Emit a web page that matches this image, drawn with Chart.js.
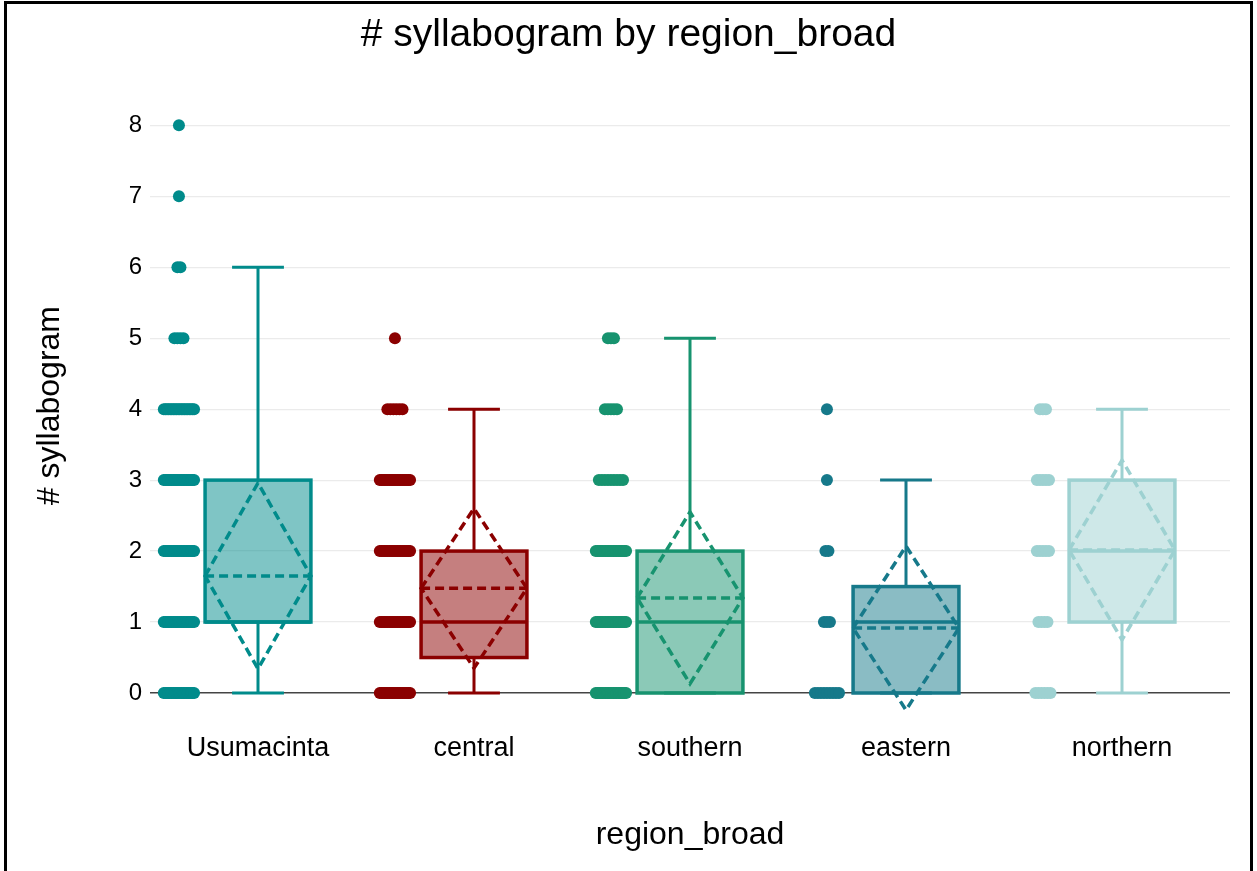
<!DOCTYPE html>
<html lang="en">
<head>
  <meta charset="UTF-8">
  <title># syllabogram by region_broad</title>
  <script src="https://cdn.jsdelivr.net/npm/chart.js"></script>
  <style>
    html, body { margin: 0; padding: 0; background: #fff; overflow: hidden; }
    #wrap { position: relative; width: 1257px; height: 871px; }
    #frame { position: absolute; left: 4px; top: 1px; width: 1243px; height: 900px;
             border: 3px solid #000; pointer-events: none; }
    canvas { position: absolute; left: 0; top: 0; }
  </style>
</head>
<body>
  <div id="wrap">
    <canvas id="box_chart" width="1257" height="871"></canvas>
    <div id="frame"></div>
  </div>

  <script>
    // values
    const regions = ['Usumacinta', 'central', 'southern', 'eastern', 'northern'];
    const q1 = [1, 0.5, 0, 0, 1];
    const median = [1, 1, 1, 1, 2];
    const q3 = [3, 2, 2, 1.5, 3];
    const whiskerLow = [0, 0, 0, 0, 0];
    const whiskerHigh = [6, 4, 5, 3, 4];
    const means = [1.65, 1.475, 1.34, 0.915, 2.015];
    const sds = [1.31, 1.125, 1.21, 1.155, 1.265];

    // how many points sit at each value 0,1,2,... (estimated from the dot clusters)
    const usumacintaCounts = [20, 20, 20, 20, 20, 4, 2, 1, 1];
    const centralCounts = [20, 20, 20, 20, 6, 1];
    const southernCounts = [20, 20, 20, 9, 5, 3];
    const easternCounts = [9, 3, 2, 1, 1];
    const northernCounts = [6, 4, 5, 5, 3];

    const yTicks = [0, 1, 2, 3, 4, 5, 6, 7, 8];

    const colors = ['#008b8b', '#8b0000', '#17936f', '#16798a', '#9dd1d1'];
    const fontFamily = '"Liberation Sans", Arial, Helvetica, sans-serif';

    const allCounts = [usumacintaCounts, centralCounts, southernCounts, easternCounts, northernCounts];
    const pointOffset = -0.366;  // dots sit left of each box
    const jitterWidth = 0.14;
    const boxHalf = 0.245;
    const capHalf = 0.12;

    // spread the dots of one level across the jitter band
    function buildPoints(counts, i) {
      let pts = [];
      counts.forEach((c, v) => {
        let spread = jitterWidth * Math.min(1, (c - 1) / 10);
        for (let k = 0; k < c; k++) {
          let off = c > 1 ? -spread / 2 + spread * k / (c - 1) : 0;
          pts.push({ x: i + pointOffset + off, y: v });
        }
      });
      return pts;
    }

    const boxPlugin = {
      id: 'boxes',
      afterDatasetsDraw(chart) {
        const ctx = chart.ctx;
        const x = chart.scales.x;
        const y = chart.scales.y;
        regions.forEach((name, i) => {
          const cx = x.getPixelForValue(i);
          const hw = x.getPixelForValue(i + boxHalf) - cx;
          const cw = x.getPixelForValue(i + capHalf) - cx;
          const yq1 = y.getPixelForValue(q1[i]);
          const yq3 = y.getPixelForValue(q3[i]);
          const ymed = y.getPixelForValue(median[i]);
          const ylo = y.getPixelForValue(whiskerLow[i]);
          const yhi = y.getPixelForValue(whiskerHigh[i]);
          const ymean = y.getPixelForValue(means[i]);
          const ysdTop = y.getPixelForValue(means[i] + sds[i]);
          const ysdBot = y.getPixelForValue(means[i] - sds[i]);

          ctx.save();
          ctx.strokeStyle = colors[i];
          ctx.lineCap = 'butt';

          // whiskers + caps
          ctx.lineWidth = 3;
          ctx.beginPath();
          ctx.moveTo(cx, yq3); ctx.lineTo(cx, yhi);
          ctx.moveTo(cx, yq1); ctx.lineTo(cx, ylo);
          ctx.moveTo(cx - cw, yhi); ctx.lineTo(cx + cw, yhi);
          ctx.moveTo(cx - cw, ylo); ctx.lineTo(cx + cw, ylo);
          ctx.stroke();

          // box
          ctx.fillStyle = colors[i] + '80';
          ctx.fillRect(cx - hw, yq3, 2 * hw, yq1 - yq3);
          ctx.lineWidth = 3.5;
          ctx.strokeRect(cx - hw, yq3, 2 * hw, yq1 - yq3);

          // median
          ctx.beginPath();
          ctx.moveTo(cx - hw, ymed); ctx.lineTo(cx + hw, ymed);
          ctx.stroke();

          // mean line + sd diamond
          ctx.setLineDash([9, 5]);
          ctx.lineWidth = 3.5;
          ctx.beginPath();
          ctx.moveTo(cx - hw, ymean); ctx.lineTo(cx + hw, ymean);
          ctx.stroke();
          ctx.beginPath();
          ctx.moveTo(cx - hw, ymean);
          ctx.lineTo(cx, ysdTop);
          ctx.lineTo(cx + hw, ymean);
          ctx.lineTo(cx, ysdBot);
          ctx.closePath();
          ctx.stroke();
          ctx.restore();
        });
      }
    };

    const ctxBox = document.getElementById('box_chart').getContext('2d');
    new Chart(ctxBox, {
      type: 'scatter',
      data: {
        datasets: regions.map((name, i) => ({
          label: name,
          data: buildPoints(allCounts[i], i),
          backgroundColor: colors[i],
          borderWidth: 0,
          pointRadius: 6,
          pointHoverRadius: 6
        }))
      },
      options: {
        responsive: false,
        animation: false,
        devicePixelRatio: 1,
        layout: { padding: { top: 0, right: 27, bottom: 0, left: 27 } },
        plugins: {
          legend: { display: false },
          tooltip: { enabled: false },
          title: {
            display: true,
            text: '# syllabogram by region_broad',
            color: '#000',
            font: { family: fontFamily, size: 39, weight: 'normal' },
            padding: { top: 12, bottom: 31 }
          }
        },
        scales: {
          x: {
            type: 'linear',
            min: -0.5,
            max: 4.5,
            afterFit: s => { s.height = 149.6; },
            afterBuildTicks: s => { s.ticks = regions.map((r, i) => ({ value: i })); },
            border: { display: false },
            grid: { display: false, drawTicks: false },
            ticks: {
              autoSkip: false,
              maxRotation: 0,
              padding: 11,
              color: '#000',
              font: { family: fontFamily, size: 27 },
              callback: v => regions[Math.round(v)]
            },
            title: {
              display: true,
              text: 'region_broad',
              color: '#000',
              font: { family: fontFamily, size: 32 },
              padding: { top: 0, bottom: 17 }
            }
          },
          y: {
            type: 'linear',
            min: -0.4,
            max: 8.5,
            afterFit: s => { s.width = 123; },
            afterBuildTicks: s => { s.ticks = yTicks.map(v => ({ value: v })); },
            border: { display: false },
            grid: {
              drawTicks: false,
              color: c => c.tick && c.tick.value === 0 ? '#444' : '#ebebeb',
              lineWidth: c => c.tick && c.tick.value === 0 ? 1.5 : 1.2
            },
            ticks: {
              padding: 8,
              color: '#000',
              font: { family: fontFamily, size: 24 }
            },
            title: {
              display: true,
              text: '# syllabogram',
              color: '#000',
              font: { family: fontFamily, size: 32 },
              padding: { top: 4, bottom: 0 }
            }
          }
        }
      },
      plugins: [boxPlugin]
    });
  </script>
</body>
</html>
